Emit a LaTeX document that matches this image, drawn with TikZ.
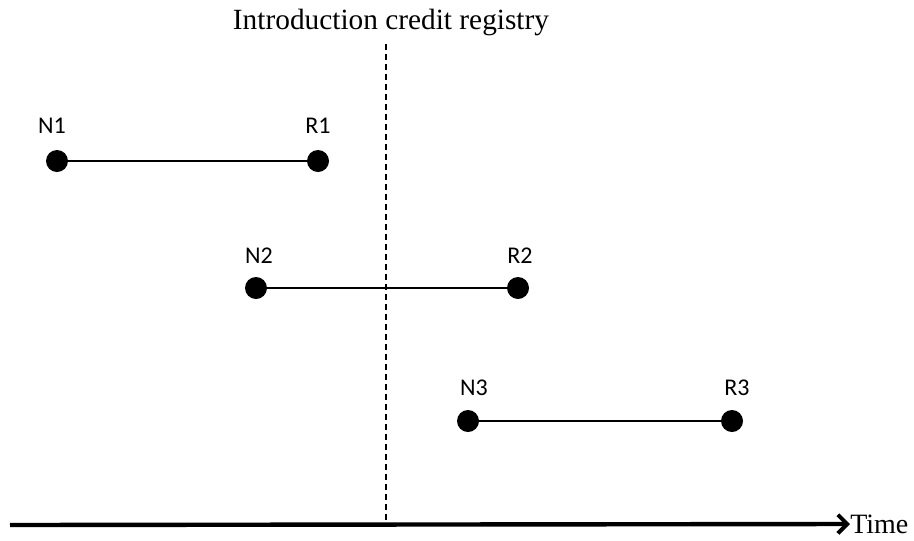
\documentclass[tikz,border=0pt]{standalone}
\usepackage{fontspec}
\setmainfont{Liberation Serif}
\newfontfamily\labelfont{Carlito}
\usetikzlibrary{arrows.meta}

\begin{document}
\begin{tikzpicture}[x=0.75pt, y=-0.75pt]
\tikzstyle{event}=[circle, fill=black, inner sep=0pt, minimum size=16.5pt]
\tikzstyle{tag}=[font=\labelfont\fontsize{18}{21}\selectfont, inner sep=0pt]
\tikzstyle{span}=[line width=1.9pt]
\useasboundingbox (0,0) rectangle (914,540);

% first interval
\node[event] (N1) at (57,161) {};
\node[event] (R1) at (318,161) {};
\node[tag] at (52,126) {N1};
\node[tag] at (318,126) {R1};
\draw[span] (N1) -- (R1);

% second interval
\node[event] (N2) at (256,288) {};
\node[event] (R2) at (518,288) {};
\node[tag] at (259,256) {N2};
\node[tag] at (520,256) {R2};
\draw[span] (N2) -- (R2);

% third interval
\node[event] (N3) at (468,421) {};
\node[event] (R3) at (732,421) {};
\node[tag] at (474,388) {N3};
\node[tag] at (737,388) {R3};
\draw[span] (N3) -- (R3);

% credit registry
\node[font=\fontsize{22}{26}\selectfont, inner sep=0pt] (reg) at (391,22) {Introduction credit registry};
\coordinate (regtop) at (386,44);
\coordinate (regbot) at (386,525);
\draw[line width=1.5pt, dash pattern=on 4.5pt off 3pt] (regtop) -- (regbot);

% time axis
\coordinate (t0) at (10,525);
\node[font=\fontsize{21}{24}\selectfont, anchor=west, inner sep=0pt] (time) at (850,524) {Time};
\draw[line width=3.3pt, -{Straight Barb[length=7pt, width=14pt, line width=3pt]}] (t0) -- (time.west);
\end{tikzpicture}
\end{document}
